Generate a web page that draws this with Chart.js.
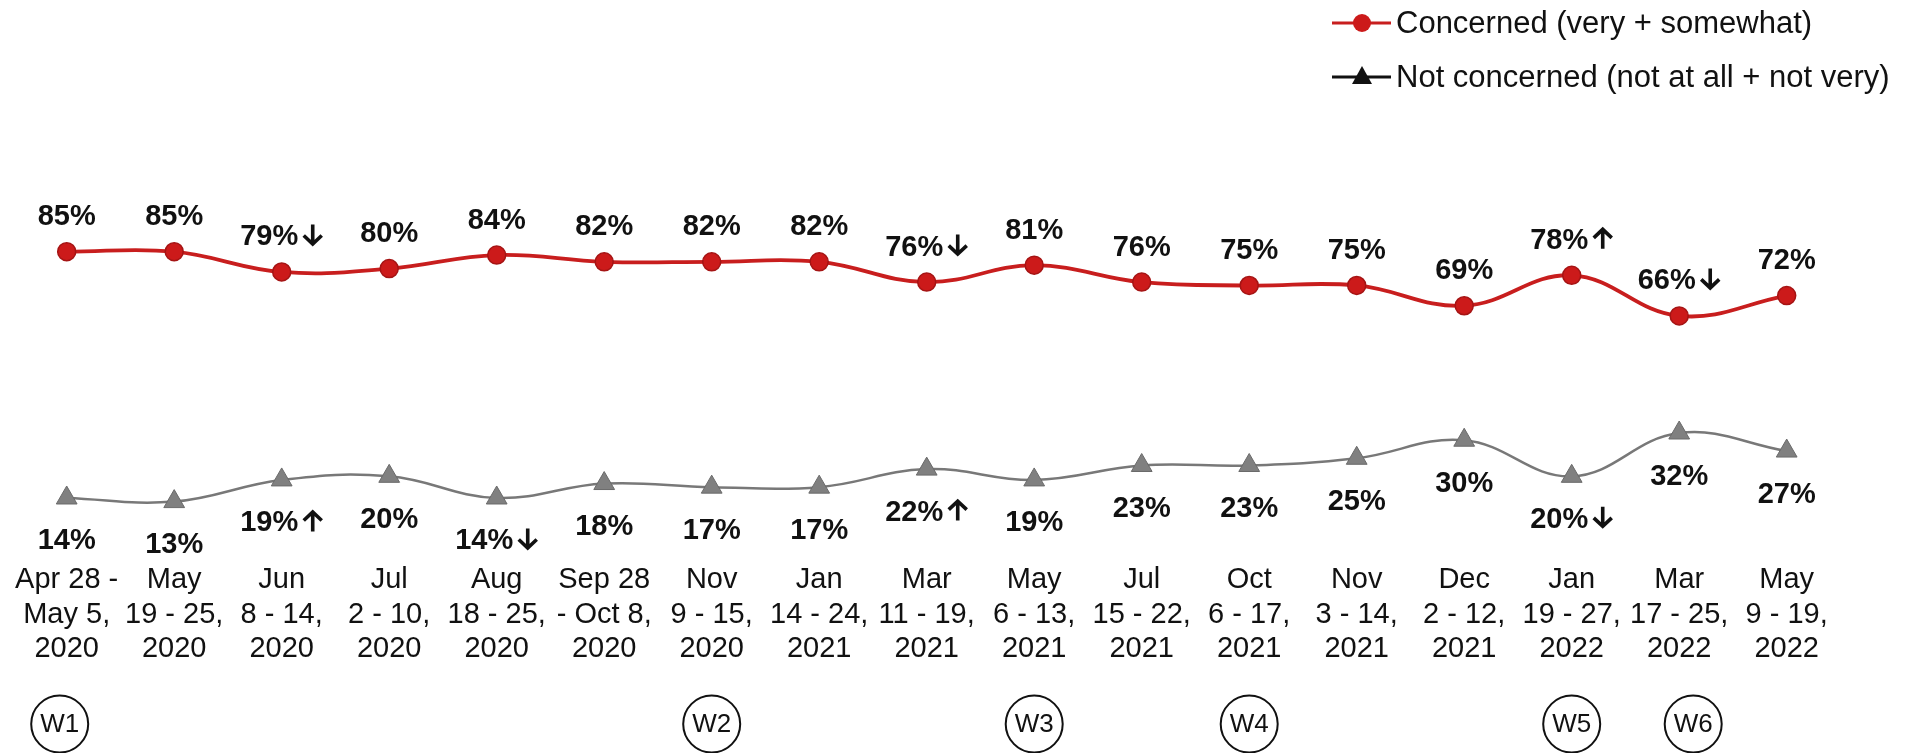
<!DOCTYPE html>
<html><head><meta charset="utf-8">
<script src="https://cdn.jsdelivr.net/npm/chart.js@4"></script>
<style>html,body{margin:0;padding:0;background:#fff;overflow:hidden}</style>
</head><body>
<canvas id="c" width="1917" height="753" style="display:block;width:1917px;height:753px"></canvas>
<script>
const categories = [
  ["Apr 28 -","May 5,","2020"],["May","19 - 25,","2020"],["Jun","8 - 14,","2020"],
  ["Jul","2 - 10,","2020"],["Aug","18 - 25,","2020"],["Sep 28","- Oct 8,","2020"],
  ["Nov","9 - 15,","2020"],["Jan","14 - 24,","2021"],["Mar","11 - 19,","2021"],
  ["May","6 - 13,","2021"],["Jul","15 - 22,","2021"],["Oct","6 - 17,","2021"],
  ["Nov","3 - 14,","2021"],["Dec","2 - 12,","2021"],["Jan","19 - 27,","2022"],
  ["Mar","17 - 25,","2022"],["May","9 - 19,","2022"]
];
const concerned = [85,85,79,80,84,82,82,82,76,81,76,75,75,69,78,66,72];
const notConcerned = [14,13,19,20,14,18,17,17,22,19,23,23,25,30,20,32,27];
const concernedArrows = ['','','down','','','','','','down','','','','','','up','down',''];
const notConcernedArrows = ['','','up','','down','','','','up','','','','','','down','',''];
const waveLabels = ['W1','','','','','','W2','','','W3','','W4','','','W5','W6',''];
const seriesNames = ['Concerned (very + somewhat)','Not concerned (not at all + not very)'];

const FONT = '"Liberation Sans", Arial, sans-serif';

function drawArrow(ctx, x, top, dir) {
  const w = 21, h = 21, cx = x + w / 2;
  ctx.save();
  ctx.strokeStyle = '#111';
  ctx.lineWidth = 3.6;
  ctx.lineCap = 'butt';
  ctx.lineJoin = 'miter';
  ctx.beginPath();
  if (dir === 'down') {
    ctx.moveTo(cx, top); ctx.lineTo(cx, top + h - 2);
    ctx.moveTo(x + 1.5, top + h - 10); ctx.lineTo(cx, top + h - 1.5); ctx.lineTo(x + w - 1.5, top + h - 10);
  } else {
    ctx.moveTo(cx, top + h); ctx.lineTo(cx, top + 2);
    ctx.moveTo(x + 1.5, top + 10); ctx.lineTo(cx, top + 1.5); ctx.lineTo(x + w - 1.5, top + 10);
  }
  ctx.stroke();
  ctx.restore();
}

function drawLabel(ctx, text, arrow, x, centerY) {
  const tw = ctx.measureText(text).width;
  const aw = arrow ? 25 : 0;
  const start = x - (tw + aw) / 2;
  ctx.textAlign = 'left';
  ctx.fillText(text, start, centerY + 10.5);
  if (arrow) drawArrow(ctx, start + tw + 4, centerY - 10.5, arrow);
}

const labelPlugin = {
  id: 'labels',
  afterDatasetsDraw(chart) {
    const ctx = chart.ctx;
    ctx.save();
    ctx.fillStyle = '#111';
    ctx.font = 'bold 29px ' + FONT;
    ctx.textBaseline = 'alphabetic';
    chart.getDatasetMeta(0).data.forEach((p, i) => {
      drawLabel(ctx, concerned[i] + '%', concernedArrows[i], p.x, p.y - 37);
    });
    chart.getDatasetMeta(1).data.forEach((p, i) => {
      drawLabel(ctx, notConcerned[i] + '%', notConcernedArrows[i], p.x, p.y + 41);
    });
    const xs = chart.scales.x;
    ctx.font = '26px ' + FONT;
    ctx.textAlign = 'center';
    ctx.textBaseline = 'middle';
    ctx.lineWidth = 2;
    ctx.strokeStyle = '#111';
    waveLabels.forEach((w, i) => {
      if (!w) return;
      let x = xs.getPixelForValue(i);
      if (i === 0) x -= 7;
      if (i === 15) x += 14;
      const y = 724;
      ctx.beginPath();
      ctx.arc(x, y, 28.5, 0, Math.PI * 2);
      ctx.stroke();
      ctx.fillText(w, x, y + 1);
    });
    ctx.textAlign = 'left';
    ctx.font = '31px ' + FONT;
    const rows = [
      {y: 23, line: '#c81e1e', style: 'circle', fill: '#cc1a1a'},
      {y: 77, line: '#111', style: 'triangle', fill: '#111'}
    ];
    rows.forEach((r, k) => {
      ctx.strokeStyle = r.line;
      ctx.lineWidth = 3;
      ctx.beginPath();
      ctx.moveTo(1332, r.y); ctx.lineTo(1391, r.y); ctx.stroke();
      ctx.fillStyle = r.fill;
      ctx.beginPath();
      if (r.style === 'circle') {
        ctx.arc(1362, r.y, 9, 0, Math.PI * 2);
      } else {
        ctx.moveTo(1362, r.y - 11); ctx.lineTo(1372, r.y + 7); ctx.lineTo(1352, r.y + 7); ctx.closePath();
      }
      ctx.fill();
      ctx.fillStyle = '#111';
      ctx.fillText(seriesNames[k], 1396, r.y + 1);
    });
    ctx.restore();
  }
};

new Chart(document.getElementById('c'), {
  type: 'line',
  data: {
    labels: categories,
    datasets: [
      {
        label: seriesNames[0], data: concerned, yAxisID: 'y1',
        borderColor: '#c81e1e', borderWidth: 3.8, tension: 0.4, clip: false,
        pointStyle: 'circle', pointRadius: 9, pointBackgroundColor: '#cc1a1a',
        pointBorderColor: '#a51414', pointBorderWidth: 1.5
      },
      {
        label: seriesNames[1], data: notConcerned, yAxisID: 'y2',
        borderColor: '#787878', borderWidth: 2.5, tension: 0.4, clip: false,
        pointStyle: 'triangle', pointRadius: 12, pointBackgroundColor: '#808080',
        pointBorderColor: '#6a6a6a', pointBorderWidth: 1
      }
    ]
  },
  options: {
    responsive: false,
    animation: false,
    events: [],
    layout: { padding: { left: 66.7, right: 130.3, top: 120, bottom: 86.5 } },
    plugins: { legend: { display: false }, tooltip: { enabled: false } },
    scales: {
      x: {
        offset: false,
        grid: { display: false, drawTicks: false },
        border: { display: false },
        ticks: {
          autoSkip: false, maxRotation: 0, minRotation: 0, padding: 0,
          color: '#111', font: { family: FONT, size: 29, lineHeight: 1.19 }
        }
      },
      y1: { display: false, min: -7.1, max: 123.96 },
      y2: { display: false, min: -4.0, max: 118.7 }
    }
  },
  plugins: [labelPlugin]
});
</script>
</body></html>
